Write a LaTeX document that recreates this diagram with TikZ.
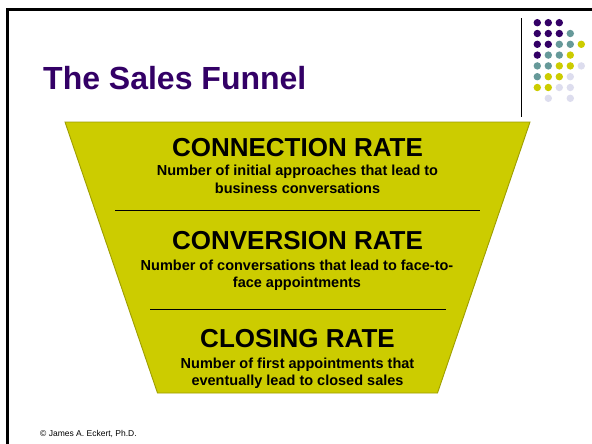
\documentclass[tikz,border=0pt]{standalone}
\usepackage{fontspec}
\setmainfont{Liberation Sans}
\definecolor{titlepurple}{HTML}{330066}
\definecolor{dotpurple}{HTML}{330066}
\definecolor{dotteal}{HTML}{669999}
\definecolor{dotyellow}{HTML}{CCCC00}
\definecolor{dotlav}{HTML}{DDDDEE}
\definecolor{funnelfill}{HTML}{CCCC00}
\definecolor{funneledge}{HTML}{9E9E00}
\begin{document}
\begin{tikzpicture}[x=1pt,y=-1pt,
  titletext/.style={font=\fontsize{32}{32}\selectfont\bfseries, text=titlepurple, anchor=base west, inner sep=0pt},
  headtext/.style={font=\fontsize{26}{26}\selectfont\bfseries, anchor=base, inner sep=0pt},
  subtext/.style={font=\fontsize{14.5}{17}\selectfont\bfseries, anchor=base, inner sep=0pt},
  foottext/.style={font=\fontsize{8.5}{9}\selectfont, anchor=base west, inner sep=0pt},
  divider/.style={line width=1pt, black},
  dot/.style={radius=3.7pt}]
\useasboundingbox (0,0) rectangle (592,444);
\fill[white] (0,0) rectangle (592,444);

% slide frame (left and top edges)
\draw[line width=3pt] (7.5,444) -- (7.5,9.7) -- (592,9.7);

% rule beside the dot grid
\draw[line width=0.9pt] (521.7,18.3) -- (521.7,116.7);

% decorative dot grid
\foreach \c/\r/\col in {
  0/0/dotpurple, 1/0/dotpurple, 2/0/dotpurple,
  0/1/dotpurple, 1/1/dotpurple, 2/1/dotpurple, 3/1/dotteal,
  0/2/dotpurple, 1/2/dotpurple, 2/2/dotteal, 3/2/dotteal, 4/2/dotyellow,
  0/3/dotpurple, 1/3/dotteal, 2/3/dotteal, 3/3/dotyellow,
  0/4/dotteal, 1/4/dotteal, 2/4/dotyellow, 3/4/dotyellow, 4/4/dotlav,
  0/5/dotteal, 1/5/dotyellow, 2/5/dotyellow, 3/5/dotlav,
  0/6/dotyellow, 1/6/dotyellow, 2/6/dotlav, 3/6/dotlav,
  1/7/dotlav, 3/7/dotlav}
  \fill[\col] (537.3+11*\c, 22.7+10.8*\r) circle (3.7);

% title
\node[titletext] (title) at (43,90) {The Sales Funnel};

% funnel body
\coordinate (ftl) at (65,122);
\coordinate (ftr) at (530,122);
\coordinate (fbr) at (437.5,393);
\coordinate (fbl) at (157.5,393);
\draw[fill=funnelfill, draw=funneledge, line width=0.9pt] (ftl) -- (ftr) -- (fbr) -- (fbl) -- cycle;

% stage dividers
\coordinate (d1l) at (115,210);
\coordinate (d1r) at (480,210);
\coordinate (d2l) at (150,309.3);
\coordinate (d2r) at (446,309.3);
\draw[divider] (d1l) -- (d1r);
\draw[divider] (d2l) -- (d2r);

% stage 1
\node[headtext] (h1) at (297.5,156) {CONNECTION RATE};
\node[subtext] (s1a) at (297.5,175.7) {Number of initial approaches that lead to};
\node[subtext] (s1b) at (297.5,193.2) {business conversations};

% stage 2
\node[headtext] (h2) at (297.5,249) {CONVERSION RATE};
\node[subtext] (s2a) at (297,270) {Number of conversations that lead to face-to-};
\node[subtext] (s2b) at (297,287) {face appointments};

% stage 3
\node[headtext] (h3) at (297.5,347.3) {CLOSING RATE};
\node[subtext] (s3a) at (297.5,368.3) {Number of first appointments that};
\node[subtext] (s3b) at (297.5,385.3) {eventually lead to closed sales};

% footer
\node[foottext] (foot) at (40,436.3) {© James A. Eckert, Ph.D.};
\end{tikzpicture}
\end{document}
